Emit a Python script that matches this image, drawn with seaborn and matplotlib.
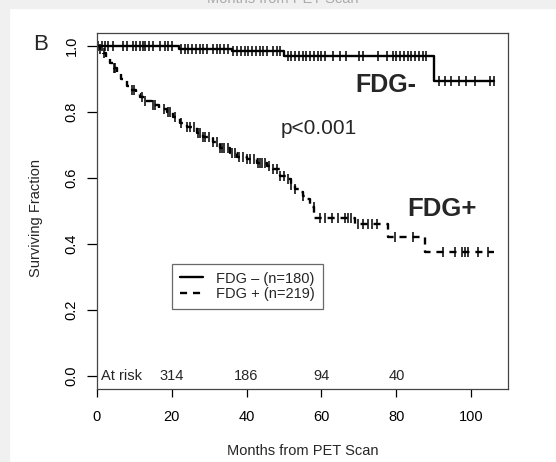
import numpy as np
import pandas as pd
import matplotlib
matplotlib.use("Agg")
import matplotlib.pyplot as plt
from matplotlib.patches import Rectangle
import seaborn as sns

# Kaplan-Meier steps
neg_times = [0, 22, 36, 50, 90, 106]
neg_surv = [1.0, 0.99, 0.984, 0.97, 0.895, 0.895]
neg_censor = [0.4, 1.4, 2.3, 3.1, 4.4, 7, 8.1, 9.7, 10.5, 11.5, 12.3, 13, 14, 15, 17, 18.2,
              19, 20, 22.5, 23.5, 24.5, 25.5, 26.5, 27.5, 28.5, 29.5, 31, 32, 33, 34, 35, 36.5,
              37.5, 38.5, 39.5, 40.5, 41.5, 42.5, 43.5, 44.5, 45.5, 47, 48, 49, 51, 52, 53, 54,
              55, 56, 57, 58, 59, 60, 61, 63, 65, 66.5, 70, 71, 75, 77.6, 79, 80, 81, 82, 83,
              84, 85, 86, 87, 88, 91.4, 93, 94.5, 96.7, 98.5, 101, 105, 106]

pos_times = [0, 1, 1.7, 2.5, 3.5, 4.5, 5.3, 6.5, 8, 9, 10.5, 11.6, 13, 14.7, 16.5, 18.7, 20.5,
             22.2, 24, 26.7, 28.5, 31, 33, 35.6, 37.4, 40, 42.7, 45.4, 47, 49, 50.7, 52, 53,
             54.3, 55, 56, 57, 58, 69, 77.8, 87.7, 106]
pos_surv = [1.0, 0.99, 0.98, 0.965, 0.95, 0.935, 0.918, 0.9, 0.88, 0.867, 0.855, 0.847, 0.835,
            0.822, 0.81, 0.8, 0.785, 0.768, 0.755, 0.738, 0.725, 0.708, 0.692, 0.677, 0.665,
            0.657, 0.645, 0.637, 0.627, 0.607, 0.596, 0.58, 0.568, 0.557, 0.545, 0.536, 0.512,
            0.48, 0.46, 0.42, 0.375, 0.375]
pos_censor = [1, 2, 4.5, 5, 9.5, 10, 12, 13, 15, 15.5, 18, 19, 19.5, 21, 22.5, 24, 25, 26, 27,
              27.5, 28.5, 29, 30, 31, 32, 33, 33.5, 34, 35, 36, 37, 38, 39, 40, 41, 42, 43, 43.5,
              44, 45, 46, 47, 48, 49, 50, 51, 52, 53, 55, 57.9, 59.6, 61, 62.8, 64.4, 66.3, 67,
              68, 69.8, 71, 72.4, 73.5, 74.8, 79.7, 84.5, 92.5, 95.7, 97.6, 98.4, 99.2, 101.8,
              104.5]

risk_times = [20, 40, 60, 80]
risk_counts = ["314", "186", "94", "40"]

legend_labels = ["FDG \u2013 (n=180)", "FDG + (n=219)"]


def surv_at(times, surv, t):
    idx = np.searchsorted(times, t, side="right") - 1
    return np.asarray(surv)[idx]


neg_df = pd.DataFrame({"t": neg_times, "s": neg_surv})
pos_df = pd.DataFrame({"t": pos_times, "s": pos_surv})
neg_c = pd.DataFrame({"t": neg_censor, "s": surv_at(neg_times, neg_surv, neg_censor)})
pos_c = pd.DataFrame({"t": pos_censor, "s": surv_at(pos_times, pos_surv, pos_censor)})

sns.set_theme(style="ticks")
plt.rcParams["font.family"] = ["Liberation Sans", "DejaVu Sans"]

W, H = 556, 462
fig = plt.figure(figsize=(W / 100, H / 100), dpi=100)
fig.patch.set_facecolor("white")
fig.add_artist(Rectangle((0, 1 - 8 / H), 1, 8 / H, transform=fig.transFigure,
                         color="#f0f0f0", zorder=0))
fig.add_artist(Rectangle((0, 0), 9 / W, 1, transform=fig.transFigure,
                         color="#f0f0f0", zorder=0))
# label of the panel above, cut off by the top edge
fig.text(283 / W, 1 + 1 / H, "Months from PET Scan", ha="center", va="center",
         fontsize=10.5, color="#aaaaaa")

ax = fig.add_axes([96.7 / W, (H - 389) / H, (508 - 96.7) / W, (389 - 33) / H])
ax.set_facecolor("white")

sns.lineplot(data=neg_df, x="t", y="s", ax=ax, color="black", lw=1.7,
             drawstyle="steps-post", estimator=None, label=legend_labels[0])
sns.lineplot(data=pos_df, x="t", y="s", ax=ax, color="black", lw=1.7,
             drawstyle="steps-post", estimator=None, linestyle=(0, (3, 2.5)),
             label=legend_labels[1])
sns.scatterplot(data=neg_c, x="t", y="s", ax=ax, marker="|", s=50, color="black",
                linewidth=1.1, legend=False)
sns.scatterplot(data=pos_c, x="t", y="s", ax=ax, marker="|", s=50, color="black",
                linewidth=1.1, legend=False)

ax.set_xlim(0, 109.8)
ax.set_ylim(-0.04, 1.04)
ax.set_xticks([0, 20, 40, 60, 80, 100])
ax.set_yticks([0.0, 0.2, 0.4, 0.6, 0.8, 1.0])
ax.set_yticklabels(["0.0", "0.2", "0.4", "0.6", "0.8", "1.0"], rotation=90, va="center")
ax.tick_params(axis="x", length=6, width=0.9, pad=9, labelsize=10.5, colors="black")
ax.tick_params(axis="y", length=7, width=0.9, pad=6, labelsize=10.5, colors="black")
for sp in ax.spines.values():
    sp.set_visible(True)
    sp.set_color("#444444")
    sp.set_linewidth(0.9)

ax.set_xlabel("Months from PET Scan", fontsize=10.5)
ax.set_ylabel("Surviving Fraction", fontsize=10.5)
ax.xaxis.set_label_coords(0.5, -(444 - 389) / 356)
ax.yaxis.set_label_coords(-(96.7 - 43) / 411.3, 0.48)

ax.text(1.1, 0, "At risk", ha="left", va="center", fontsize=10.5)
for t, n in zip(risk_times, risk_counts):
    ax.text(t, 0, n, ha="center", va="center", fontsize=10.5)

ax.text(69, 0.883, "FDG-", fontsize=18, fontweight="bold", ha="left", va="center")
ax.text(83, 0.505, "FDG+", fontsize=18.5, fontweight="bold", ha="left", va="center")
ax.text(49, 0.75, "p<0.001", fontsize=15, ha="left", va="center")

fig.text(41 / W, 1 - 44 / H, "B", fontsize=16, ha="center", va="center")

leg = ax.legend(loc="lower left", bbox_to_anchor=(0.182, 0.2247), fontsize=10.5,
                frameon=True, fancybox=False, handlelength=1.6, handletextpad=0.9,
                labelspacing=0.1, borderpad=0.55, borderaxespad=0)
leg.get_frame().set_edgecolor("#444444")
leg.get_frame().set_linewidth(0.9)

fig.savefig("out.png", dpi=100, facecolor=fig.get_facecolor())
